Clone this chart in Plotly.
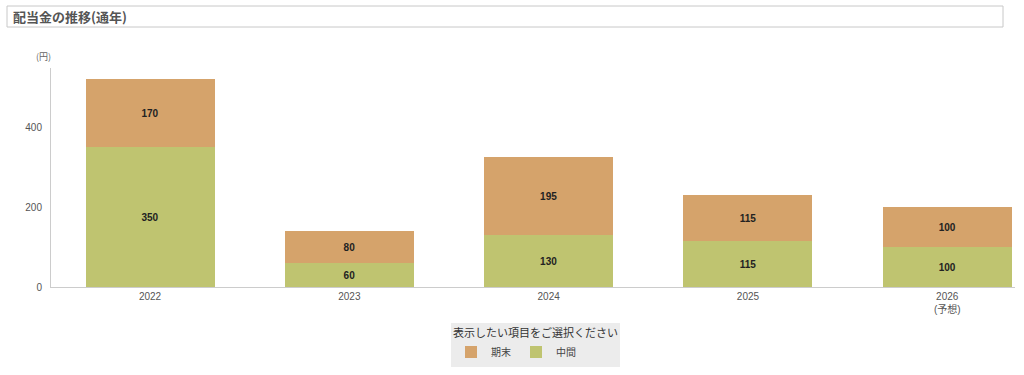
import plotly.graph_objects as go

years = ["2022", "2023", "2024", "2025", "2026<br>(予想)"]
interim = [350, 60, 130, 115, 100]   # 中間
year_end = [170, 80, 195, 115, 100]  # 期末

W, H = 1024, 375
FONT = "Noto Sans CJK JP, Noto Sans, sans-serif"
NUMFONT = "Liberation Sans, Arial, sans-serif"

fig = go.Figure()
fig.add_trace(go.Bar(
    x=years, y=interim, name="中間",
    marker=dict(color="#BFC470", line=dict(width=0)),
    texttemplate="<b>%{y}</b>", textposition="inside",
    insidetextanchor="middle",
    textfont=dict(color="#222", size=10, family=NUMFONT),
    width=0.647, legendrank=2,
))
fig.add_trace(go.Bar(
    x=years, y=year_end, name="期末",
    marker=dict(color="#D5A36B", line=dict(width=0)),
    texttemplate="<b>%{y}</b>", textposition="inside",
    insidetextanchor="middle",
    textfont=dict(color="#222", size=10, family=NUMFONT),
    width=0.647, legendrank=1,
))

fig.update_layout(
    width=W, height=H,
    barmode="stack",
    plot_bgcolor="white", paper_bgcolor="white",
    font=dict(family=FONT, color="#555", size=10),
    margin=dict(l=51, r=9, t=68, b=88, autoexpand=False),
    showlegend=True,
    legend=dict(
        orientation="h", x=(535.5 - 51) / (W - 60), xanchor="center",
        y=-0.165, yanchor="top",
        bgcolor="#ECECEC", font=dict(size=10, color="#444"),
        title=dict(text="表示したい項目をご選択ください", side="top",
                   font=dict(size=11, color="#333")),
        itemwidth=30, traceorder="normal",
    ),
    xaxis=dict(
        range=[-0.497, 4.34], showline=True, linecolor="#cccccc", linewidth=1,
        showgrid=False, ticks="", tickfont=dict(size=10, color="#555", family=NUMFONT + ", " + FONT),
        fixedrange=True,
    ),
    yaxis=dict(
        range=[0, 547.5], showline=True, linecolor="#cccccc", linewidth=1,
        showgrid=False, zeroline=False, tickvals=[0, 200, 400],
        ticks="", tickfont=dict(size=10, color="#555", family=NUMFONT), ticklabelstandoff=6,
        fixedrange=True,
    ),
    uniformtext=dict(minsize=8, mode="show"),
)

# title box
fig.add_shape(type="rect", xref="paper", yref="paper",
              x0=(7 - 51) / (W - 60), x1=(1003 - 51) / (W - 60),
              y0=(H - 88 - 27) / (H - 156), y1=(H - 88 - 6) / (H - 156),
              line=dict(color="#c8c8c8", width=1), fillcolor="white", layer="above")
fig.add_annotation(text="<b>配当金の推移(通年)</b>", xref="paper", yref="paper",
                   x=(11 - 51) / (W - 60), y=(H - 88 - 16.5) / (H - 156),
                   xanchor="left", yanchor="middle", showarrow=False,
                   font=dict(size=13, color="#555"))
fig.add_annotation(text="(円)", xref="paper", yref="paper",
                   x=(34 - 51) / (W - 60), y=(H - 88 - 56) / (H - 156),
                   xanchor="left", yanchor="middle", showarrow=False,
                   font=dict(size=9, color="#666"))

fig.write_html("out.html")
